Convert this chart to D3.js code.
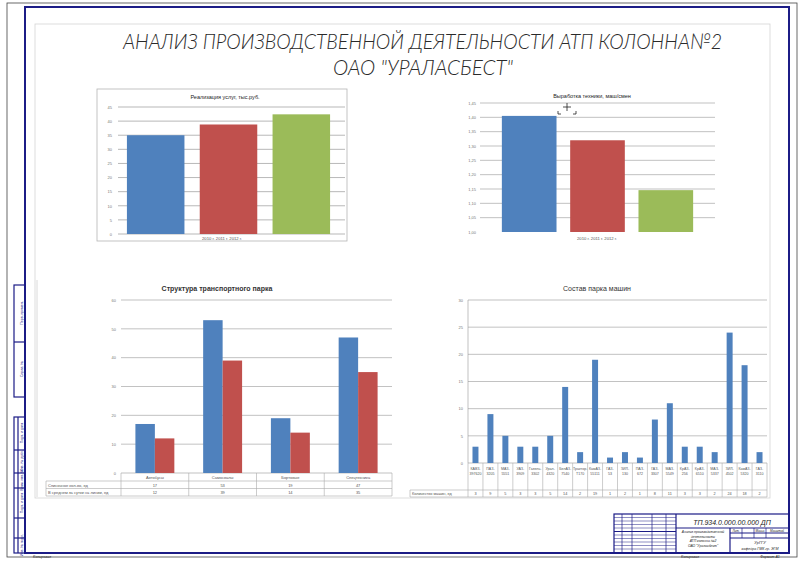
<!DOCTYPE html>
<html>
<head>
<meta charset="utf-8">
<script src="https://cdn.jsdelivr.net/npm/d3@7"></script>
<style>
body { margin:0; background:#fff; }
text { font-family: "Liberation Sans", Arial, sans-serif; }
</style>
</head>
<body>
<div id="sheet"></div>
<script>
// data
var revYears = ["2010 г.", "2011 г.", "2012 г."];
var revValues = [35.0, 38.8, 42.4];
var revTicks = [0, 5, 10, 15, 20, 25, 30, 35, 40, 45];

var outYears = ["2010 г.", "2011 г.", "2012 г."];
var outValues = [1.405, 1.32, 1.146];
var outTicks = [1.00, 1.05, 1.10, 1.15, 1.20, 1.25, 1.30, 1.35, 1.40, 1.45];

var parkGroups = ["Автобусы", "Самосвалы", "Бортовые", "Спецтехника"];
var parkRows = ["Списочное кол-во, ед", "В среднем за сутки на линии, ед"];
var parkList = [17, 53, 19, 47];
var parkLine = [12, 39, 14, 35];
var parkTicks = [0, 10, 20, 30, 40, 50, 60];

var fleetModels = ["КАВЗ-397620", "ПАЗ-3205", "МАЗ-5551", "УАЗ-3909", "Газель-3302", "Урал-4320",
    "БелАЗ-7540", "Трактор-Т170", "КамАЗ-55111", "ГАЗ-53", "ЗИЛ-130", "ПАЗ-672", "ГАЗ-3307",
    "МАЗ-5549", "КрАЗ-256", "КрАЗ-6510", "МАЗ-5337", "ЗИЛ-4502", "КамАЗ-5320", "ГАЗ-3110"];
var fleetCount = [3, 9, 5, 3, 3, 5, 14, 2, 19, 1, 2, 1, 8, 11, 3, 3, 2, 24, 18, 2];
var fleetRow = "Количество машин, ед";
var fleetTicks = [0, 5, 10, 15, 20, 25, 30];

var colors = ["#4F81BD", "#C0504D", "#9BBB59"];
var frameBlue = "#1c1c86";

var svg = d3.select("#sheet").append("svg")
    .attr("width", 800)
    .attr("height", 562);

svg.append("rect").attr("width", 800).attr("height", 562).attr("fill", "#fff");

// sheet borders
svg.append("rect")
    .attr("x", 7).attr("y", 3).attr("width", 790).attr("height", 554)
    .attr("fill", "none").attr("stroke", "#444").attr("stroke-width", 0.8);
svg.append("rect")
    .attr("x", 25).attr("y", 7).attr("width", 764).attr("height", 546)
    .attr("fill", "none").attr("stroke", frameBlue).attr("stroke-width", 2);
svg.append("rect")
    .attr("x", 35).attr("y", 24).attr("width", 735).attr("height", 474)
    .attr("fill", "none").attr("stroke", "#d4d4d4").attr("stroke-width", 0.8);

// Title (thin italic drafting lettering)
var titleFont = "Lato, Roboto, 'DejaVu Sans', sans-serif";
svg.append("text")
    .attr("x", 123).attr("y", 49)
    .attr("font-size", "22px")
    .attr("font-style", "italic")
    .attr("fill", "#2a2a2a")
    .attr("textLength", 599).attr("lengthAdjust", "spacingAndGlyphs")
    .style("font-family", titleFont)
    .style("font-weight", 300)
    .text("АНАЛИЗ ПРОИЗВОДСТВЕННОЙ ДЕЯТЕЛЬНОСТИ АТП КОЛОННА№2");
svg.append("text")
    .attr("x", 333).attr("y", 75)
    .attr("font-size", "22px")
    .attr("font-style", "italic")
    .attr("fill", "#2a2a2a")
    .attr("textLength", 180).attr("lengthAdjust", "spacingAndGlyphs")
    .style("font-family", titleFont)
    .style("font-weight", 300)
    .text("ОАО \"УРАЛАСБЕСТ\"");

function yAxisLabels(g, y, ticks, x, fmt) {
    g.append("g")
        .attr("transform", "translate(" + x + ",0)")
        .call(d3.axisLeft(y).tickValues(ticks).tickSize(0).tickPadding(2).tickFormat(fmt))
        .call(function(a){ a.select(".domain").remove(); })
        .selectAll("text")
            .attr("font-size", "4px")
            .attr("fill", "#777")
            .style("font-family", "'Liberation Sans', Arial, sans-serif");
}

function grid(g, y, ticks, x0, x1, color) {
    g.selectAll("line.grid" + x0)
        .data(ticks)
        .enter().append("line")
        .attr("x1", x0).attr("x2", x1)
        .attr("y1", function(d){ return y(d); })
        .attr("y2", function(d){ return y(d); })
        .attr("stroke", color)
        .attr("stroke-width", 0.6);
}

// ---------- Chart 1: revenue ----------
var c1 = svg.append("g");
c1.append("rect")
    .attr("x", 97).attr("y", 89).attr("width", 250).attr("height", 152)
    .attr("fill", "#fff").attr("stroke", "#b5b5b5").attr("stroke-width", 0.8);
var x1 = d3.scaleBand().domain(revYears).range([116, 341]).paddingInner(0.21).paddingOuter(0.15);
var y1 = d3.scaleLinear().domain([0, 45]).range([234, 107]);
grid(c1, y1, revTicks, 118, 345, "#888");
yAxisLabels(c1, y1, revTicks, 114, d3.format("d"));
c1.selectAll("rect.bar")
    .data(revValues)
    .enter().append("rect")
    .attr("class", "bar")
    .attr("x", function(d, i){ return x1(revYears[i]); })
    .attr("y", function(d){ return y1(d); })
    .attr("width", x1.bandwidth())
    .attr("height", function(d){ return y1(0) - y1(d); })
    .attr("fill", function(d, i){ return colors[i]; });
c1.append("text")
    .attr("x", 225).attr("y", 99)
    .attr("text-anchor", "middle")
    .attr("font-size", "5.5px")
    .attr("fill", "#222")
    .text("Реализация услуг, тыс.руб.");
c1.append("text")
    .attr("x", 222).attr("y", 240)
    .attr("text-anchor", "middle")
    .attr("font-size", "4.2px")
    .attr("fill", "#555")
    .text(revYears.join(" "));

// ---------- Chart 2: output ----------
var c2 = svg.append("g");
var x2 = d3.scaleBand().domain(outYears).range([480, 715]).paddingInner(0.2).paddingOuter(0.32);
var y2 = d3.scaleLinear().domain([1.00, 1.45]).range([232, 103]);
grid(c2, y2, outTicks.filter(function(d){ return d > 1.0; }), 480, 715, "#999");
yAxisLabels(c2, y2, outTicks, 478, function(d){ return d3.format(".2f")(d).replace(".", ","); });
c2.selectAll("rect.bar")
    .data(outValues)
    .enter().append("rect")
    .attr("class", "bar")
    .attr("x", function(d, i){ return x2(outYears[i]); })
    .attr("y", function(d){ return y2(d); })
    .attr("width", x2.bandwidth())
    .attr("height", function(d){ return y2(1.0) - y2(d); })
    .attr("fill", function(d, i){ return colors[i]; });
c2.append("text")
    .attr("x", 592).attr("y", 98)
    .attr("text-anchor", "middle")
    .attr("font-size", "5.5px")
    .attr("fill", "#222")
    .text("Выработка техники, маш/смен");
c2.append("text")
    .attr("x", 597).attr("y", 240)
    .attr("text-anchor", "middle")
    .attr("font-size", "4.2px")
    .attr("fill", "#555")
    .text(outYears.join(" "));
// cursor mark
var cur = c2.append("g").attr("stroke", "#222").attr("stroke-width", 0.8).attr("fill", "none");
cur.append("path").attr("d", "M567,103V111M563,107H571");
cur.append("path").attr("d", "M558,111V114H561M573,114H576V111");

// ---------- Chart 3: park structure ----------
var c3 = svg.append("g");
c3.append("line").attr("x1", 37).attr("x2", 37).attr("y1", 280).attr("y2", 497)
    .attr("stroke", "#d0d0d0").attr("stroke-width", 0.8);
var x3 = d3.scaleBand().domain(parkGroups).range([121, 392]).padding(0);
var x3s = d3.scaleBand().domain([0, 1]).range([0, x3.bandwidth()]).paddingInner(0).paddingOuter(0.74);
var y3 = d3.scaleLinear().domain([0, 60]).range([473, 300]);
grid(c3, y3, parkTicks, 121, 392, "#999");
yAxisLabels(c3, y3, parkTicks, 118, d3.format("d"));
var series3 = [parkList, parkLine];
series3.forEach(function(vals, s){
    c3.selectAll("rect.s" + s)
        .data(vals)
        .enter().append("rect")
        .attr("class", "s" + s)
        .attr("x", function(d, i){ return x3(parkGroups[i]) + x3s(s); })
        .attr("y", function(d){ return y3(d); })
        .attr("width", x3s.bandwidth())
        .attr("height", function(d){ return y3(0) - y3(d); })
        .attr("fill", colors[s]);
});
c3.append("text")
    .attr("x", 217).attr("y", 291)
    .attr("text-anchor", "middle")
    .attr("font-size", "7px")
    .attr("font-weight", "bold")
    .attr("fill", "#333")
    .text("Структура транспортного парка");
// data table
var t3 = c3.append("g").attr("stroke", "#aaa").attr("stroke-width", 0.6);
t3.append("line").attr("x1", 46).attr("x2", 392).attr("y1", 481).attr("y2", 481);
t3.append("line").attr("x1", 46).attr("x2", 392).attr("y1", 488.5).attr("y2", 488.5);
t3.append("line").attr("x1", 46).attr("x2", 392).attr("y1", 496).attr("y2", 496);
t3.append("line").attr("x1", 46).attr("x2", 46).attr("y1", 481).attr("y2", 496);
t3.selectAll("line.col")
    .data(parkGroups.concat(["end"]))
    .enter().append("line")
    .attr("x1", function(d, i){ return 121 + i * x3.bandwidth(); })
    .attr("x2", function(d, i){ return 121 + i * x3.bandwidth(); })
    .attr("y1", 473).attr("y2", 496);
c3.selectAll("text.cat")
    .data(parkGroups)
    .enter().append("text")
    .attr("x", function(d){ return x3(d) + x3.bandwidth() / 2; })
    .attr("y", 479)
    .attr("text-anchor", "middle")
    .attr("font-size", "4px")
    .attr("fill", "#555")
    .text(function(d){ return d; });
series3.forEach(function(vals, s){
    c3.append("text")
        .attr("x", 48).attr("y", 486.5 + s * 7.5)
        .attr("font-size", "4px").attr("fill", "#555")
        .text(parkRows[s]);
    c3.selectAll("text.v" + s)
        .data(vals)
        .enter().append("text")
        .attr("x", function(d, i){ return x3(parkGroups[i]) + x3.bandwidth() / 2; })
        .attr("y", 486.5 + s * 7.5)
        .attr("text-anchor", "middle")
        .attr("font-size", "4px").attr("fill", "#555")
        .text(function(d){ return d; });
});

// ---------- Chart 4: fleet composition ----------
var c4 = svg.append("g");
var x4 = d3.scaleBand().domain(fleetModels).range([468, 767]).padding(0);
var y4 = d3.scaleLinear().domain([0, 30]).range([463, 300]);
grid(c4, y4, fleetTicks, 468, 767, "#999");
c4.append("line").attr("x1", 468).attr("x2", 468).attr("y1", 300).attr("y2", 463)
    .attr("stroke", "#999").attr("stroke-width", 0.6);
yAxisLabels(c4, y4, fleetTicks, 465, d3.format("d"));
c4.selectAll("rect.bar")
    .data(fleetCount)
    .enter().append("rect")
    .attr("class", "bar")
    .attr("x", function(d, i){ return x4(fleetModels[i]) + x4.bandwidth() * 0.3; })
    .attr("y", function(d){ return y4(d); })
    .attr("width", x4.bandwidth() * 0.4)
    .attr("height", function(d){ return y4(0) - y4(d); })
    .attr("fill", colors[0]);
c4.append("text")
    .attr("x", 597).attr("y", 291)
    .attr("text-anchor", "middle")
    .attr("font-size", "7px")
    .attr("fill", "#333")
    .text("Состав парка машин");
var t4 = c4.append("g").attr("stroke", "#aaa").attr("stroke-width", 0.6);
t4.append("line").attr("x1", 410).attr("x2", 767).attr("y1", 490).attr("y2", 490);
t4.append("line").attr("x1", 410).attr("x2", 767).attr("y1", 497).attr("y2", 497);
t4.append("line").attr("x1", 410).attr("x2", 410).attr("y1", 490).attr("y2", 497);
t4.selectAll("line.col")
    .data(fleetModels.concat(["end"]))
    .enter().append("line")
    .attr("x1", function(d, i){ return 468 + i * x4.bandwidth(); })
    .attr("x2", function(d, i){ return 468 + i * x4.bandwidth(); })
    .attr("y1", 463).attr("y2", 497);
var cats4 = c4.selectAll("text.cat")
    .data(fleetModels)
    .enter().append("text")
    .attr("text-anchor", "middle")
    .attr("font-size", "3.6px")
    .attr("fill", "#555");
cats4.each(function(d, i){
    var parts = d.split("-");
    var t = d3.select(this);
    parts.forEach(function(p, k){
        t.append("tspan")
            .attr("x", x4(d) + x4.bandwidth() / 2)
            .attr("y", 470 + k * 5)
            .text(k < parts.length - 1 ? p + "-" : p);
    });
});
c4.append("text")
    .attr("x", 412).attr("y", 495)
    .attr("font-size", "3.8px").attr("fill", "#555")
    .text(fleetRow);
c4.selectAll("text.val")
    .data(fleetCount)
    .enter().append("text")
    .attr("x", function(d, i){ return x4(fleetModels[i]) + x4.bandwidth() / 2; })
    .attr("y", 495)
    .attr("text-anchor", "middle")
    .attr("font-size", "3.8px").attr("fill", "#555")
    .text(function(d){ return d; });

// ---------- left strip ----------
var strip = svg.append("g").attr("stroke", frameBlue).attr("fill", "none").attr("stroke-width", 1.2);
strip.append("rect").attr("x", 14).attr("y", 285).attr("width", 11).attr("height", 112);
strip.append("line").attr("x1", 14).attr("x2", 25).attr("y1", 342).attr("y2", 342);
strip.append("rect").attr("x", 14).attr("y", 417).attr("width", 11).attr("height", 136);
strip.append("line").attr("x1", 18).attr("x2", 18).attr("y1", 417).attr("y2", 553);
[450, 473, 488, 518, 538].forEach(function(yy){
    strip.append("line").attr("x1", 14).attr("x2", 25).attr("y1", yy).attr("y2", yy);
});
var stripText = [["Перв. примен.", 313], ["Справ. №", 369], ["Подп. и дата", 433],
    ["Инв. № дубл.", 461], ["Взам. инв. №", 480], ["Подп. и дата", 503], ["Инв. № подл.", 545]];
stripText.forEach(function(s){
    svg.append("text")
        .attr("transform", "translate(23," + s[1] + ") rotate(-90)")
        .attr("text-anchor", "middle")
        .attr("font-size", "3.5px")
        .attr("fill", frameBlue)
        .text(s[0]);
});

// ---------- title block ----------
var tb = svg.append("g").attr("stroke", frameBlue).attr("fill", "none").attr("stroke-width", 1.2);
tb.append("rect").attr("x", 614).attr("y", 514).attr("width", 175).attr("height", 39);
tb.append("line").attr("x1", 676).attr("x2", 676).attr("y1", 514).attr("y2", 553);
tb.append("line").attr("x1", 676).attr("x2", 789).attr("y1", 528).attr("y2", 528);
tb.append("line").attr("x1", 730).attr("x2", 730).attr("y1", 528).attr("y2", 553);
tb.append("line").attr("x1", 730).attr("x2", 789).attr("y1", 533).attr("y2", 533);
tb.append("line").attr("x1", 730).attr("x2", 789).attr("y1", 538).attr("y2", 538);
[742, 754, 766].forEach(function(xx){
    tb.append("line").attr("x1", xx).attr("x2", xx).attr("y1", 528).attr("y2", 538)
        .attr("stroke-width", 0.7);
});
[622, 632, 652, 666].forEach(function(xx){
    tb.append("line").attr("x1", xx).attr("x2", xx).attr("y1", 514).attr("y2", 553)
        .attr("stroke-width", 0.7);
});
d3.range(517.5, 553, 3.5).forEach(function(yy){
    tb.append("line").attr("x1", 614).attr("x2", 676).attr("y1", yy).attr("y2", yy)
        .attr("stroke-width", yy === 531.5 ? 1.2 : 0.5);
});
var tbt = svg.append("g").attr("fill", "#222")
    .style("font-family", "'DejaVu Sans Condensed', 'DejaVu Sans', sans-serif")
    .attr("font-style", "italic");
tbt.append("text").attr("x", 732).attr("y", 525).attr("text-anchor", "middle")
    .attr("font-size", "7px").text("ТП.934.0.000.00.000 ДП");
["Анализ производственной", "деятельности", "АТП колонна №2", "ОАО \"Ураласбест\""].forEach(function(s, i){
    tbt.append("text").attr("x", 703).attr("y", 533 + i * 4.5).attr("text-anchor", "middle")
        .attr("font-size", "3.4px").text(s);
});
["Лит.", "Масса", "Масштаб"].forEach(function(s, i){
    tbt.append("text").attr("x", [736, 760, 777][i]).attr("y", 532).attr("text-anchor", "middle")
        .attr("font-size", "3px").text(s);
});
tbt.append("text").attr("x", 760).attr("y", 544).attr("text-anchor", "middle")
    .attr("font-size", "4px").text("УрГГУ");
tbt.append("text").attr("x", 760).attr("y", 549.5).attr("text-anchor", "middle")
    .attr("font-size", "3.6px").text("кафедра ГМК гр. ЭГМ");
tbt.append("text").attr("x", 690).attr("y", 558).attr("text-anchor", "middle")
    .attr("font-size", "3.6px").text("Копировал");
tbt.append("text").attr("x", 770).attr("y", 558).attr("text-anchor", "middle")
    .attr("font-size", "3.6px").text("Формат А1");
tbt.append("text").attr("x", 42).attr("y", 558).attr("text-anchor", "middle")
    .attr("font-size", "3.6px").text("Копировал");
</script>
</body>
</html>
